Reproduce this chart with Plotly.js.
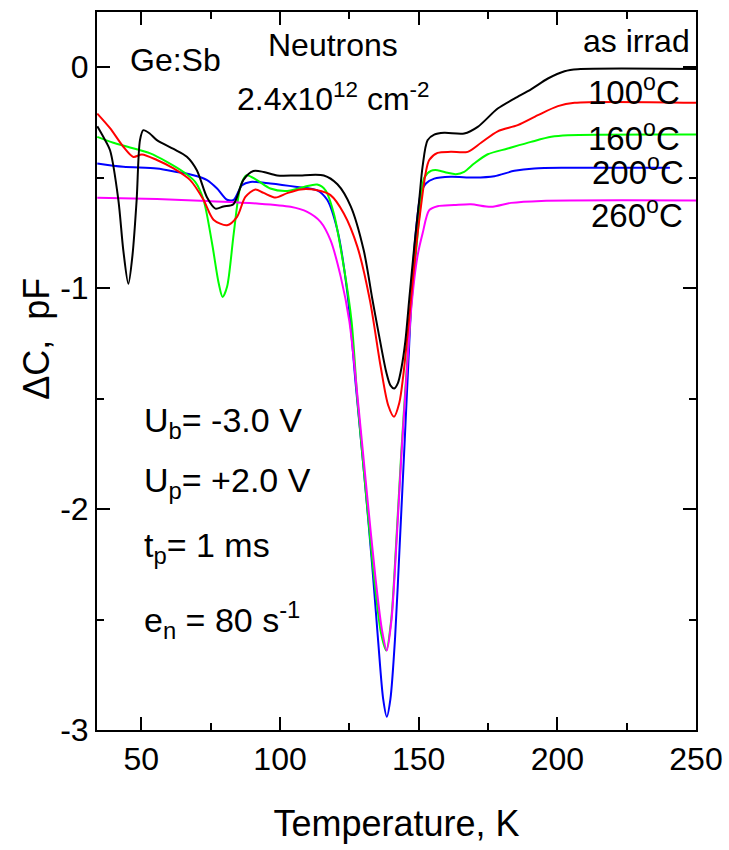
<!DOCTYPE html>
<html>
<head>
<meta charset="utf-8">
<script src="https://cdn.plot.ly/plotly-3.0.1.min.js"></script>
<style>html,body{margin:0;padding:0;background:#fff;}#chart{width:729px;height:850px;}</style>
</head>
<body>
<div id="chart"></div>
<script>
// ---- data ----
const seriesNames = ['as irrad', '100°C', '160°C', '200°C', '260°C'];
const seriesColors = ['#000000', '#ff0000', '#00ff00', '#0000ff', '#ff00ff'];

const tAsIrrad = [34.1, 36.5, 38.7, 41.7, 43.5, 45.3, 46.8, 48.3, 49.5, 50.7, 53, 55.6, 61.6, 66.4, 70, 73.7, 76.7, 79.6, 83.2, 86.8, 90.4, 94.1, 99, 106.2, 115.8, 120.7, 125.5, 130.2, 133.3, 135.5, 138.3, 139.8, 141.2, 142.5, 143.8, 145.2, 146.6, 148.5, 150.2, 151.4, 153.2, 155.6, 159.2, 166.4, 171.3, 178.5, 184.5, 190.5, 196.6, 202.6, 207.4, 250];
const cAsIrrad = [-0.267, -0.32, -0.376, -0.60, -0.83, -0.98, -0.85, -0.60, -0.33, -0.285, -0.30, -0.33, -0.37, -0.405, -0.466, -0.59, -0.64, -0.63, -0.62, -0.51, -0.47, -0.474, -0.49, -0.49, -0.49, -0.53, -0.63, -0.83, -1.05, -1.20, -1.38, -1.44, -1.454, -1.43, -1.36, -1.24, -1.05, -0.80, -0.60, -0.45, -0.33, -0.305, -0.297, -0.30, -0.27, -0.187, -0.142, -0.10, -0.051, -0.018, -0.009, -0.008];

const t100 = [34.1, 38.7, 43.5, 47.1, 50.2, 55.6, 61.6, 67.6, 72.4, 76, 80.9, 84.5, 87.5, 91.1, 94.1, 98.4, 102.6, 107.4, 113.4, 118.2, 123, 127.9, 132.4, 136.3, 139, 141.1, 143, 144.4, 145.9, 147.3, 149, 150.8, 152.5, 153.8, 156.8, 161.6, 167.7, 172.5, 178.5, 185.7, 193, 200.2, 206.2, 250];
const c100 = [-0.21, -0.276, -0.36, -0.406, -0.395, -0.42, -0.458, -0.511, -0.60, -0.69, -0.715, -0.677, -0.587, -0.553, -0.569, -0.59, -0.57, -0.553, -0.557, -0.579, -0.662, -0.813, -1.054, -1.356, -1.53, -1.582, -1.52, -1.40, -1.22, -1.04, -0.82, -0.632, -0.48, -0.42, -0.388, -0.383, -0.383, -0.342, -0.29, -0.262, -0.217, -0.176, -0.161, -0.161];

const t160 = [34.1, 39.9, 45.9, 53.2, 59.2, 65.2, 69.4, 72.4, 75.5, 77.9, 79.3, 80.9, 83.3, 85.7, 87.9, 91.7, 96.5, 102.6, 108.6, 113.4, 116.4, 119.4, 123, 125.8, 128, 131, 134, 136.4, 138.3, 140.1, 141.9, 143.7, 145.5, 147.3, 149.3, 150.8, 152, 154.4, 156.8, 160.4, 163.4, 166.4, 170, 174.9, 182.1, 190.5, 197.8, 203.8, 250];
const c160 = [-0.315, -0.342, -0.363, -0.39, -0.428, -0.474, -0.519, -0.60, -0.798, -0.979, -1.04, -0.994, -0.753, -0.542, -0.489, -0.511, -0.549, -0.56, -0.542, -0.531, -0.557, -0.662, -0.904, -1.15, -1.52, -1.93, -2.32, -2.56, -2.64, -2.50, -2.15, -1.75, -1.40, -1.08, -0.80, -0.60, -0.50, -0.469, -0.466, -0.478, -0.484, -0.474, -0.436, -0.394, -0.368, -0.338, -0.315, -0.308, -0.305];

const t200 = [34.1, 43.5, 55.6, 62.8, 68.8, 73.7, 77.3, 80.9, 83.3, 86.3, 89.3, 96.5, 106.2, 113.4, 117, 120.7, 124.3, 127.4, 130.4, 133.2, 135.4, 137.2, 138.5, 139.8, 141.5, 143.2, 145.0, 146.6, 148, 149.5, 150.8, 152.6, 155.6, 161.6, 170, 177.3, 184.5, 191.7, 203.8, 240.6];
const c200 = [-0.436, -0.451, -0.458, -0.474, -0.489, -0.511, -0.549, -0.60, -0.60, -0.534, -0.519, -0.526, -0.542, -0.557, -0.60, -0.738, -1.024, -1.45, -1.85, -2.25, -2.60, -2.86, -2.94, -2.86, -2.58, -2.15, -1.68, -1.25, -0.90, -0.68, -0.57, -0.526, -0.504, -0.496, -0.499, -0.493, -0.469, -0.458, -0.455, -0.455];

const t260 = [34.1, 55.6, 73.7, 91.7, 103.8, 109.8, 114.6, 118.2, 121.9, 125.0, 128.4, 131.5, 134.5, 136.8, 138.5, 140.2, 142.0, 143.8, 145.6, 147.4, 149.5, 151.4, 153.8, 156.8, 162.8, 168.8, 176.1, 183.3, 194.2, 250];
const c260 = [-0.591, -0.597, -0.606, -0.617, -0.632, -0.655, -0.70, -0.783, -0.949, -1.15, -1.55, -1.95, -2.32, -2.55, -2.64, -2.50, -2.15, -1.75, -1.40, -1.08, -0.86, -0.753, -0.647, -0.629, -0.624, -0.62, -0.632, -0.614, -0.605, -0.603];

const xTickVals = [50, 100, 150, 200, 250];
const yTickVals = [-3, -2, -1, 0];
const yTickText = ['-3', '-2', '-1', '0'];

// ---- chart ----
const FONT = 'Liberation Sans';
const xs = [tAsIrrad, t100, t160, t200, t260];
const ys = [cAsIrrad, c100, c160, c200, c260];
const traces = xs.map((x, i) => ({
  x: x, y: ys[i], name: seriesNames[i], type: 'scatter', mode: 'lines',
  line: {color: seriesColors[i], width: 2, shape: 'spline', smoothing: 0.8},
  showlegend: false, hoverinfo: 'skip'
}));
const order = [3, 2, 4, 1, 0];
const data = order.map(i => traces[i]);

const ann = (x, y, text, xanchor, size) => ({xref: 'paper', yref: 'paper', x: x, y: y, text: text,
  showarrow: false, xanchor: xanchor || 'center', yanchor: 'middle',
  font: {family: FONT, size: size || 32, color: '#000000'}});

const layout = {
  width: 729, height: 850,
  margin: {l: 97, r: 33, t: 12, b: 120},
  paper_bgcolor: '#ffffff', plot_bgcolor: '#ffffff',
  font: {family: FONT, color: '#000000', size: 32},
  xaxis: {
    range: [34, 250], tickvals: xTickVals, ticks: 'inside', ticklen: 13, tickwidth: 2, tickcolor: '#000000',
    minor: {ticks: 'inside', ticklen: 7, tickwidth: 2, tickcolor: '#000000', dtick: 25, tick0: 25},
    showline: true, linecolor: '#000000', linewidth: 2, mirror: 'allticks', showgrid: false, zeroline: false,
    tickfont: {family: FONT, size: 32, color: '#000000'},
    title: {text: 'Temperature, K', font: {family: FONT, size: 36, color: '#000000'}, standoff: 34}
  },
  yaxis: {
    range: [-3, 0.25], tickvals: yTickVals, ticktext: yTickText, ticks: 'inside', ticklen: 13, tickwidth: 2, tickcolor: '#000000',
    minor: {ticks: 'inside', ticklen: 7, tickwidth: 2, tickcolor: '#000000', dtick: 0.5, tick0: 0.5},
    showline: true, linecolor: '#000000', linewidth: 2, mirror: 'allticks', showgrid: false, zeroline: false,
    tickfont: {family: FONT, size: 32, color: '#000000'}
  },
  annotations: [
    {xref: 'paper', yref: 'paper', x: -0.1, y: 0.545, text: 'ΔC,  pF', textangle: -90, showarrow: false,
     xanchor: 'center', yanchor: 'middle', font: {family: FONT, size: 36, color: '#000000'}},
    ann(0.052, 0.933, 'Ge:Sb', 'left'),
    ann(0.394, 0.954, 'Neutrons'),
    ann(0.394, 0.882, '2.4x10<sup>12</sup> cm<sup>-2</sup>'),
    ann(0.993, 0.96, 'as irrad', 'right'),
    ann(0.897, 0.892, '100<sup>o</sup>C', 'center', 33),
    ann(0.897, 0.827, '160<sup>o</sup>C', 'center', 33),
    ann(0.904, 0.780, '200<sup>o</sup>C', 'center', 33),
    ann(0.901, 0.720, '260<sup>o</sup>C', 'center', 33),
    ann(0.075, 0.428, 'U<sub>b</sub>= -3.0 V', 'left', 34),
    ann(0.075, 0.345, 'U<sub>p</sub>= +2.0 V', 'left', 34),
    ann(0.075, 0.254, 't<sub>p</sub>= 1 ms', 'left', 34),
    ann(0.075, 0.153, 'e<sub>n</sub> = 80 s<sup>-1</sup>', 'left', 34)
  ]
};
Plotly.newPlot('chart', data, layout, {displayModeBar: false});
</script>
</body>
</html>
